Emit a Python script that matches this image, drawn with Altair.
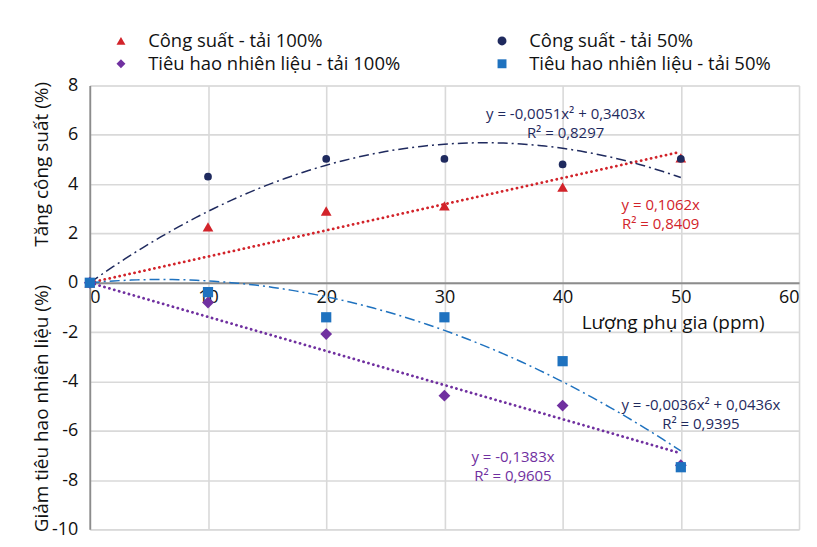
import altair as alt
import pandas as pd

# ---- data ----
x_ppm = [0, 10, 20, 30, 40, 50]
cs_100 = [0, 2.27, 2.91, 3.12, 3.88, 5.06]     # Công suất - tải 100%
cs_50 = [0, 4.30, 5.02, 5.02, 4.80, 5.02]      # Công suất - tải 50%
th_100 = [0, -0.80, -2.08, -4.58, -4.98, -7.40]  # Tiêu hao - tải 100%
th_50 = [0, -0.38, -1.40, -1.40, -3.18, -7.48]   # Tiêu hao - tải 50%

series_names = ["Công suất - tải 100%", "Công suất - tải 50%",
                "Tiêu hao nhiên liệu - tải 100%", "Tiêu hao nhiên liệu - tải 50%"]
series_values = [cs_100, cs_50, th_100, th_50]
colors = ["#d2232a", "#1f2a5e", "#7030a0", "#1f72bf"]
label_colors = ["#d2232a", "#1f2a5e", "#7030a0", "#1f2a5e"]
shapes = ["triangle-up", "circle", "diamond", "square"]
point_sizes = [115, 60, 140, 105]

# trendline equations printed on the chart: y = a2*x^2 + a1*x
trend_a2 = [0.0, -0.0051, 0.0, -0.0036]
trend_a1 = [0.1062, 0.3403, -0.1383, 0.0436]
eq_text = ["y = 0,1062x", "y = -0,0051x² + 0,3403x", "y = -0,1383x", "y = -0,0036x² + 0,0436x"]
r2_text = ["R² = 0,8409", "R² = 0,8297", "R² = 0,9605", "R² = 0,9395"]

x_ticks = [0, 10, 20, 30, 40, 50, 60]
y_ticks = [-10, -8, -6, -4, -2, 0, 2, 4, 6, 8]
x_title = "Lượng phụ gia (ppm)"
y_titles = ["Tăng công suất (%)", "Giảm tiêu hao nhiên liệu (%)"]

# ---- placement (styling) ----
label_pos = [(48.3, 3.14), (40.25, 6.84), (35.8, -7.08), (51.7, -4.94)]
y_title_pos = [4.8, -5.1]
FONT = "Open Sans"
# legend order so that the 2-column legend reads row by row like the reference
legend_order = [0, 2, 1, 3]

pts = pd.DataFrame([
    {"series": s, "x": x, "y": v}
    for s, vals in zip(series_names, series_values)
    for x, v in zip(x_ppm, vals)
])

fit_x = [i * 0.5 for i in range(0, 101)]
fits = pd.DataFrame([
    {"series": s, "x": x, "y": a2 * x * x + a1 * x}
    for s, a2, a1 in zip(series_names, trend_a2, trend_a1)
    for x in fit_x
])

xscale = alt.Scale(domain=[0, 60], nice=False, zero=False)
yscale = alt.Scale(domain=[-10, 8], nice=False, zero=False)

W, H = 711, 445
zero_offset = -H * 10 / 18
minus_fix = "replace(datum.label, '\u2212', '-')"

xaxis = alt.Axis(values=x_ticks, grid=True, gridColor="#d9d9d9", gridWidth=1.6,
                 domainColor="#8c8c8c", domainWidth=1.8, ticks=False,
                 labelFontSize=18, labelFont=FONT, labelColor="#111", labelPadding=6,
                 offset=zero_offset, title=x_title, titleFont=FONT, titleFontSize=19,
                 titleFontWeight="normal", titleColor="#111",
                 titleAnchor="end", titleAlign="right", titleX=676, titleY=40,
                 titleBaseline="middle")
yaxis = alt.Axis(values=y_ticks, grid=True, gridColor="#d9d9d9", gridWidth=1.6,
                 domainColor="#8c8c8c", domainWidth=1.8, ticks=False,
                 labelFontSize=18, labelFont=FONT, labelColor="#111", labelPadding=12,
                 labelExpr=minus_fix, title=None)

X = alt.X("x:Q", scale=xscale, axis=xaxis)
Y = alt.Y("y:Q", scale=yscale, axis=yaxis)

ord_names = [series_names[i] for i in legend_order]
ord_colors = [colors[i] for i in legend_order]
ord_shapes = [shapes[i] for i in legend_order]

layers = []
dash_styles = [([0.1, 5], 2.8, "round"), ([10, 4, 2, 4], 1.5, "butt"),
               ([0.1, 5], 2.8, "round"), ([10, 4, 2, 4], 1.5, "butt")]
for i, s in enumerate(series_names):
    dash, sw, cap = dash_styles[i]
    layers.append(
        alt.Chart(fits).transform_filter(alt.datum.series == s)
        .mark_line(color=colors[i], strokeDash=dash, strokeWidth=sw, strokeCap=cap)
        .encode(x=X, y=Y)
    )

# small points (fully covered by the sized points drawn on top) that carry the legend
layers.append(
    alt.Chart(pts).mark_point(filled=True, opacity=1, size=25).encode(
        x=X, y=Y,
        color=alt.Color("series:N", scale=alt.Scale(domain=ord_names, range=ord_colors),
                        legend=alt.Legend(orient="none", legendX=22, legendY=-54, columns=2,
                                          title=None, labelFont=FONT, labelFontSize=18.5,
                                          labelColor="#111", labelOffset=18, symbolSize=80,
                                          columnPadding=92, rowPadding=4,
                                          padding=0, labelLimit=400)),
        shape=alt.Shape("series:N", scale=alt.Scale(domain=ord_names, range=ord_shapes)),
    )
)

for i, s in enumerate(series_names):
    layers.append(
        alt.Chart(pts).transform_filter(alt.datum.series == s)
        .mark_point(filled=True, opacity=1, shape=shapes[i], size=point_sizes[i],
                    color=colors[i])
        .encode(x=X, y=Y)
    )

ann = pd.DataFrame([
    {"x": label_pos[i][0], "y": label_pos[i][1],
     "t": eq_text[i] + "\n" + r2_text[i], "series": series_names[i]}
    for i in range(4)
])
for i, s in enumerate(series_names):
    layers.append(
        alt.Chart(ann).transform_filter(alt.datum.series == s)
        .mark_text(font=FONT, fontSize=15, align="center", baseline="middle",
                   lineBreak="\n", lineHeight=19, color=label_colors[i])
        .encode(x=X, y=Y, text="t:N")
    )

ytitle_df = pd.DataFrame({"t": y_titles, "y": y_title_pos})
layers.append(
    alt.Chart(ytitle_df).mark_text(font=FONT, fontSize=19, angle=270, align="center",
                                   baseline="middle", color="#111").encode(
        x=alt.value(-48),
        y=Y,
        text="t:N",
    )
)

chart = alt.layer(*layers).properties(
    width=W, height=H,
    autosize=alt.AutoSizeParams(type="none"),
    padding={"left": 82, "top": 77, "right": 10, "bottom": 10},
).configure_view(stroke=None).configure(background="white")

chart.save("out.html", embed_options={"renderer": "svg", "actions": False})
